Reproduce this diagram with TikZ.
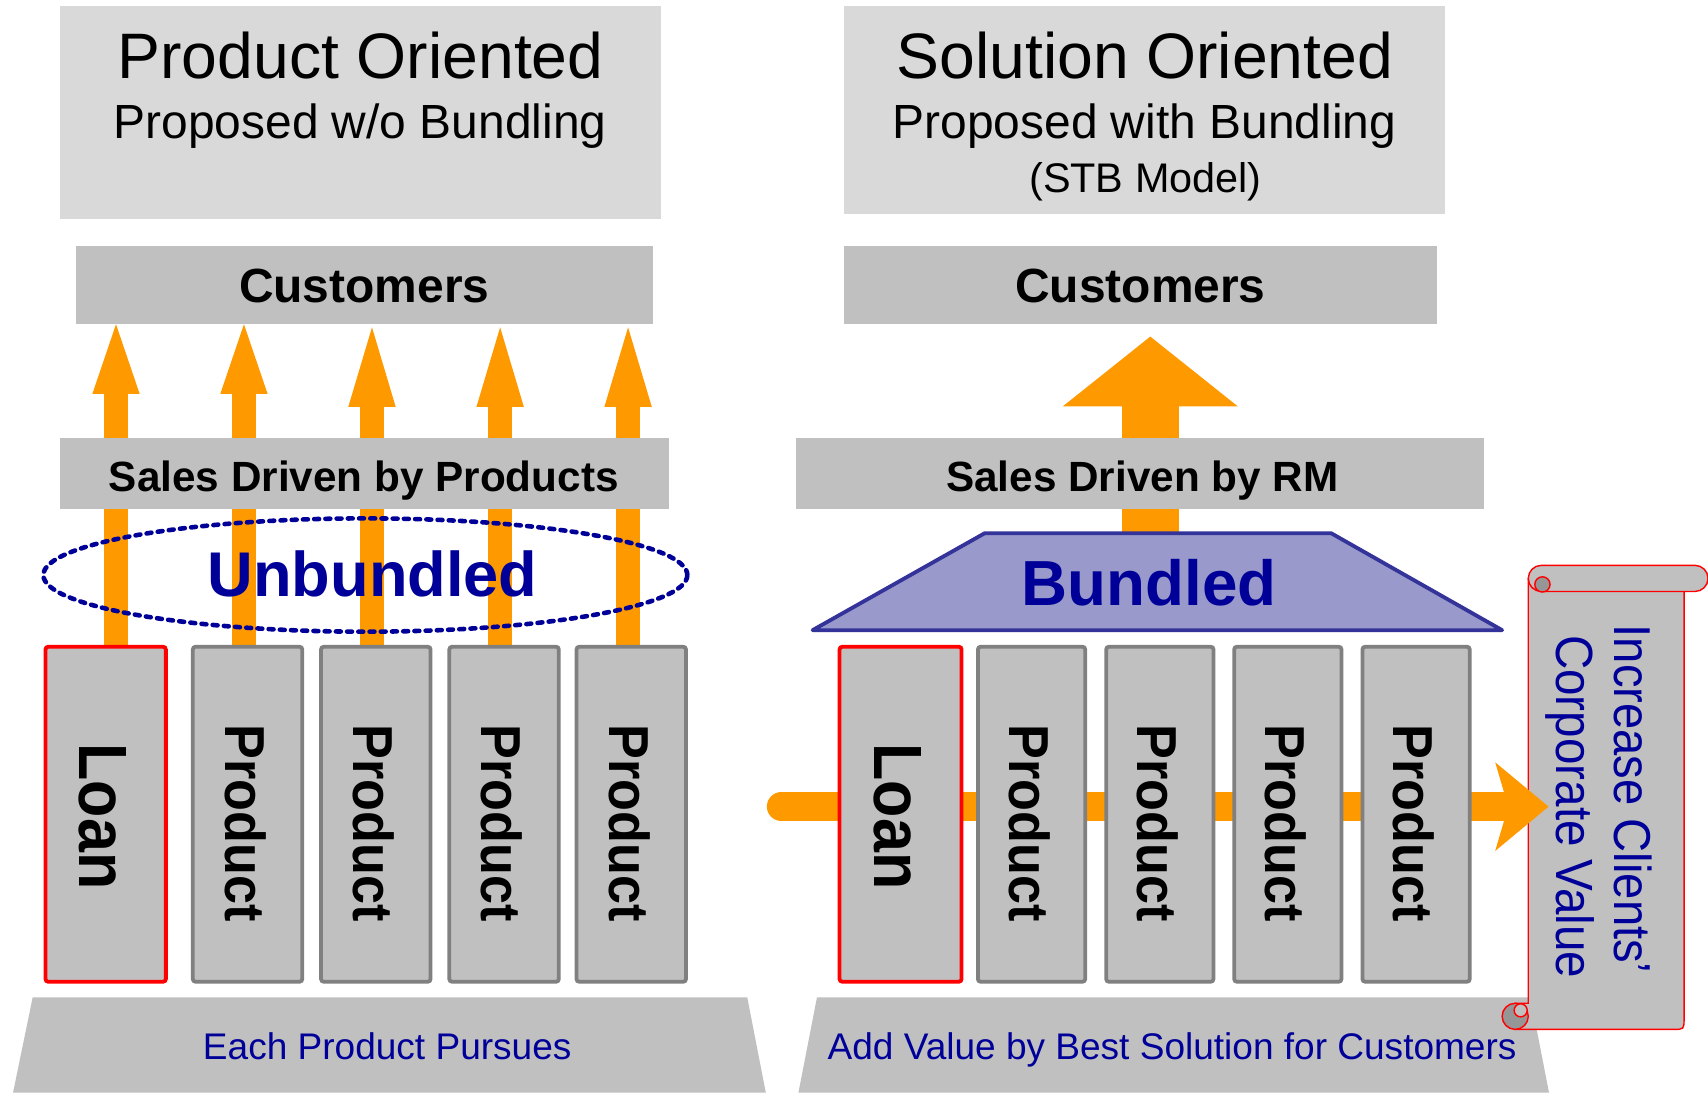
\documentclass[tikz,border=0pt]{standalone}
\usepackage{fontspec}
\setmainfont{Liberation Sans}
\usetikzlibrary{arrows.meta,calc,shapes.geometric}

\definecolor{flow}{HTML}{FF9900}
\definecolor{barfill}{HTML}{C0C0C0}
\definecolor{panelfill}{HTML}{D9D9D9}
\definecolor{rim}{HTML}{808080}
\definecolor{ink}{HTML}{000099}
\definecolor{bundfill}{HTML}{9999CC}
\definecolor{bundrim}{HTML}{333399}
\definecolor{curlshade}{HTML}{969696}

\newcommand\fs[1]{\fontsize{#1}{#1}\selectfont}
\newcommand\tall[2]{\scalebox{1}[#1]{#2}}

\pgfdeclarelayer{bg}
\pgfdeclarelayer{back}
\pgfsetlayers{bg,back,main}

\tikzset{
  panel/.style={fill=panelfill, inner sep=0pt, outer sep=0pt},
  bar/.style={fill=barfill, inner sep=0pt, outer sep=0pt},
  item/.style={draw=rim, fill=barfill, line width=3.5pt, rounded corners=2.5pt,
    inner sep=0pt, outer sep=0pt, minimum height=307.5pt, minimum width=#1},
  txt/.style={inner sep=0pt, outer sep=0pt},
  vlabel/.style={txt, rotate=-90, font=\bfseries\fs{#1}},
  flowup/.style={draw=flow, line width=22pt,
    -{Triangle[width=43.5pt, length=#1, line width=0pt]}},
  bigup/.style={draw=flow, line width=52.5pt,
    -{Triangle[width=160.5pt, length=64pt, line width=0pt]}},
  flowright/.style={draw=flow, line width=27pt, line cap=round,
    -{Stealth[width=81.4pt, length=49pt, inset=12pt, line width=0pt]}},
}

\begin{document}
\begin{tikzpicture}[x=1pt,y=-1pt]
\useasboundingbox (0,0) rectangle (1568,1003);
\begin{pgfonlayer}{bg}
  \fill[white] (0,0) rectangle (1568,1003);
\end{pgfonlayer}

% ---------- headings ----------
\node[panel, minimum width=552.1pt, minimum height=195.5pt] (lhead) at (330.95,103.25) {};
\node[txt, anchor=base, font=\fs{59}] (lheadA) at (331,72.5) {Product Oriented};
\node[txt, anchor=base, font=\fs{44}] (lheadB) at (330.5,127) {Proposed w/o Bundling};

\node[panel, minimum width=552.1pt, minimum height=191.3pt] (rhead) at (1050.55,101.15) {};
\node[txt, anchor=base, font=\fs{59}] (rheadA) at (1051,72.5) {Solution Oriented};
\node[txt, anchor=base, font=\fs{44}] (rheadB) at (1050.5,127) {Proposed with Bundling};
\node[txt, anchor=base, font=\fs{38}] (rheadC) at (1051.5,177) {(STB Model)};

% ---------- customers ----------
\node[bar, minimum width=529.4pt, minimum height=71.9pt] (lcust) at (334.4,261.75) {};
\node[txt, anchor=base, font=\bfseries\fs{44}] (lcustT) at (334.4,277.5) {Customers};
\node[bar, minimum width=544.7pt, minimum height=71.9pt] (rcust) at (1046.85,261.75) {};
\node[txt, anchor=base, font=\bfseries\fs{44}] (rcustT) at (1047,277.5) {Customers};

% ---------- sales bars ----------
\node[bar, minimum width=559pt, minimum height=65.5pt] (lsales) at (334.4,434.55) {};
\node[txt, anchor=base, font=\bfseries\fs{38.8}] (lsalesT) at (334,450.8) {Sales Driven by Products};
\node[bar, minimum width=631pt, minimum height=65.5pt] (rsales) at (1046.5,434.55) {};
\node[txt, anchor=base, font=\bfseries\fs{38.8}] (rsalesT) at (1048.7,450.8) {Sales Driven by RM};

% ---------- unbundled ring ----------
\node[ellipse, draw=ink, line width=4.2pt, dash pattern=on 4.5pt off 5.8pt, line cap=round,
      minimum width=591.2pt, minimum height=104pt, inner sep=0pt] (ring) at (335.4,527.9) {};
\node[txt, anchor=base, text=ink, font=\bfseries\fs{58}] (unb) at (342,547.8) {Unbundled};

% ---------- left products ----------
\node[item=110.5pt, draw=red] (lloan) at (97,747.5) {};
\node[item=100.5pt] (lp1) at (227.25,747.5) {};
\node[item=100.5pt] (lp2) at (345,747.5) {};
\node[item=100.5pt] (lp3) at (462.75,747.5) {};
\node[item=100.5pt] (lp4) at (579.5,747.5) {};
\node[vlabel=56] at ($(lloan.center)+(-2.7,2)$) {\tall{1.12}{Loan}};
\foreach \b in {lp1,lp2,lp3,lp4}
  \node[vlabel=47.9] at ($(\b.center)+(-1.9,8)$) {\tall{1.08}{Product}};

% product arrows towards the customers
\begin{pgfonlayer}{back}
  \coordinate (a0) at ($(lloan.north)+(9.5,0)$);
  \coordinate (a1) at ($(lp1.north)+(-3.3,0)$);
  \coordinate (a2) at ($(lp2.north)+(-3.5,0)$);
  \coordinate (a3) at ($(lp3.north)+(-3.6,0)$);
  \coordinate (a4) at ($(lp4.north)+(-2.9,0)$);
  \draw[flowup=64pt] (a0) -- (a0 |- lcust.south);
  \draw[flowup=64pt] (a1) -- (a1 |- lcust.south);
  \draw[flowup=73pt] (a2) -- ($(a2 |- lcust.south)+(0,2.8)$);
  \draw[flowup=73pt] (a3) -- ($(a3 |- lcust.south)+(0,2.8)$);
  \draw[flowup=73pt] (a4) -- ($(a4 |- lcust.south)+(0,2.8)$);
\end{pgfonlayer}

% ---------- bundled roof ----------
\coordinate (bundtop) at (1056,490);
\draw[fill=bundfill, draw=bundrim, line width=3.5pt, line join=round]
  (904,489.5) -- (1222,489.5) -- (1379,578.5) -- (746,578.5) -- cycle;
\node[txt, anchor=base, text=ink, font=\bfseries\fs{58.5}] (bund) at (1055,556.3) {Bundled};
\begin{pgfonlayer}{back}
  \draw[bigup] (bundtop) -- ($(bundtop |- rcust.south)+(0,11.3)$);
\end{pgfonlayer}

% ---------- foundations ----------
\fill[barfill] (30,915.6) -- (686,915.6) -- (703,1003) -- (12,1003) -- cycle;
\node[txt, anchor=base, text=ink, font=\fs{34}] (lbase) at (355.5,973) {Each Product Pursues};
\fill[barfill] (750,915.6) -- (1405,915.6) -- (1422,1003) -- (733,1003) -- cycle;
\node[txt, anchor=base, text=ink, font=\fs{34}] (rbase) at (1076,973) {Add Value by Best Solution for Customers};

% ---------- scroll ----------
\begin{scope}[line width=1.3pt]
  \filldraw[fill=barfill, draw=red]
    (1403,531) -- (1546,531) -- (1546,935) .. controls (1546,945) .. (1536,945)
    -- (1391,945) -- (1391,921) -- (1403,921) -- cycle;
  \filldraw[fill=curlshade, draw=red] (1391,933) circle (12pt);
  \filldraw[fill=barfill, draw=red] (1396,927.5) circle (6pt);
  \filldraw[fill=barfill, draw=red, rounded corners=12pt] (1403,519) rectangle (1568,543);
  \filldraw[fill=curlshade, draw=red] (1416,536.5) circle (7pt);
\end{scope}
\node[txt, rotate=-90, anchor=base, text=ink, font=\fs{43.3}] (goalA) at (1482.6,733.7)
  {\tall{1.1}{Increase Clients’}};
\node[txt, rotate=-90, anchor=base, text=ink, font=\fs{43.7}] (goalB) at (1429,740.5)
  {\tall{1.1}{Corporate Value}};

% ---------- value flow ----------
\coordinate (flowin) at (717.5,740.5);
\coordinate (scrollin) at (1421.6,740.5);
\draw[flowright] (flowin) -- (scrollin);

% ---------- right products ----------
\node[item=112pt, draw=red] (rloan) at (826.75,747.5) {};
\node[item=98.5pt] (rp1) at (947,747.5) {};
\node[item=98.5pt] (rp2) at (1064.75,747.5) {};
\node[item=98.5pt] (rp3) at (1182.25,747.5) {};
\node[item=98.5pt] (rp4) at (1300,747.5) {};
\node[vlabel=56] at ($(rloan.center)+(-2.7,2)$) {\tall{1.12}{Loan}};
\foreach \b in {rp1,rp2,rp3,rp4}
  \node[vlabel=47.9] at ($(\b.center)+(-1.9,8)$) {\tall{1.08}{Product}};

\end{tikzpicture}
\end{document}
